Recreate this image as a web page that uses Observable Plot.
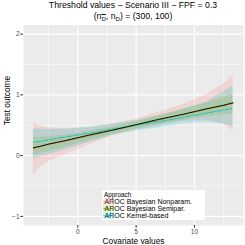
<!DOCTYPE html>
<html><head><meta charset="utf-8">
<script src="https://cdn.jsdelivr.net/npm/d3@7"></script>
<script src="https://cdn.jsdelivr.net/npm/@observablehq/plot@0.6"></script>
<style>
body{margin:0;background:#fff;font-family:"Liberation Sans",Arial,sans-serif;}
#wrap{position:relative;width:245px;height:245px;overflow:hidden;}
#wrap svg{position:absolute;left:0;top:0;}
.t{position:absolute;white-space:nowrap;color:#000;}
sub{font-size:70%;vertical-align:-0.35em;line-height:0;}
.ov{text-decoration:overline;}
#legend{position:absolute;left:102px;top:190px;width:103px;height:30px;background:#fff;}
.lt{position:absolute;font-size:6.4px;color:#000;left:2px;top:1px;line-height:7px;}
.li{position:absolute;left:1px;height:7px;display:flex;align-items:center;}
.li span{font-size:7px;margin-left:1.5px;line-height:7px;}
</style></head>
<body><div id="wrap"></div>
<script>
// data
const covariate = [-3.8, -3.3, -2.5, -1, 1, 3, 5, 7, 9, 11, 12.5, 13.3];
const trueValues = [0.13, 0.15, 0.19, 0.25, 0.34, 0.42, 0.51, 0.60, 0.68, 0.77, 0.83, 0.87];
const nonparMean = [0.12, 0.14, 0.18, 0.24, 0.33, 0.42, 0.51, 0.59, 0.68, 0.76, 0.83, 0.86];
const nonparLower = [-0.33, -0.20, -0.10, 0.02, 0.18, 0.33, 0.42, 0.49, 0.56, 0.58, 0.52, 0.41];
const nonparUpper = [0.55, 0.49, 0.46, 0.44, 0.46, 0.52, 0.60, 0.72, 0.84, 1.00, 1.18, 1.32];
const semiparMean = [0.13, 0.15, 0.19, 0.25, 0.33, 0.42, 0.50, 0.59, 0.67, 0.76, 0.82, 0.86];
const semiparLower = [0.00, 0.03, 0.07, 0.14, 0.25, 0.35, 0.44, 0.51, 0.58, 0.64, 0.67, 0.69];
const semiparUpper = [0.30, 0.30, 0.31, 0.34, 0.40, 0.47, 0.56, 0.66, 0.76, 0.87, 0.96, 1.01];
const kernelMean = [0.22, 0.23, 0.26, 0.31, 0.37, 0.44, 0.50, 0.56, 0.63, 0.70, 0.75, 0.78];
const kernelLower = [-0.05, -0.02, 0.02, 0.10, 0.22, 0.33, 0.41, 0.46, 0.52, 0.55, 0.52, 0.48];
const kernelUpper = [0.44, 0.44, 0.43, 0.44, 0.47, 0.52, 0.58, 0.66, 0.76, 0.88, 1.05, 1.15];
const approaches = ["AROC Bayesian Nonparam.", "AROC Bayesian Semipar.", "AROC Kernel-based"];
const colors = ["#F8766D", "#7CAE00", "#00BFC4"];
const dashes = ["3,2", "6,2", "1,1.5,4,1.5"];
const xTicks = [0, 5, 10];
const yTicks = [-1, 0, 1, 2];
const xMinor = [-2.5, 2.5, 7.5, 12.5];
const yMinor = [-0.5, 0.5, 1.5];

const series = [
  {mean: nonparMean, lo: nonparLower, hi: nonparUpper},
  {mean: semiparMean, lo: semiparLower, hi: semiparUpper},
  {mean: kernelMean, lo: kernelLower, hi: kernelUpper}
];
const rows = series.map((s, k) => covariate.map((x, i) => ({x, y: s.mean[i], lo: s.lo[i], hi: s.hi[i], a: approaches[k]})));
const truth = covariate.map((x, i) => ({x, y: trueValues[i]}));
const fmt = d3.format("d");

const marks = [
  Plot.frame({fill: "#EBEBEB", stroke: "none"}),
  Plot.ruleX(xMinor, {stroke: "#fff", strokeWidth: 0.55}),
  Plot.ruleY(yMinor, {stroke: "#fff", strokeWidth: 0.55}),
  Plot.ruleX(xTicks, {stroke: "#fff", strokeWidth: 1.1}),
  Plot.ruleY(yTicks, {stroke: "#fff", strokeWidth: 1.1})
];
rows.forEach((r, k) => marks.push(Plot.areaY(r, {x: "x", y1: "lo", y2: "hi", fill: colors[k], fillOpacity: 0.2})));
rows.forEach((r, k) => marks.push(Plot.lineY(r, {x: "x", y: "y", stroke: colors[k], strokeWidth: 0.9, strokeDasharray: dashes[k]})));
marks.push(Plot.lineY(truth, {x: "x", y: "y", stroke: "#000", strokeWidth: 0.9}));
marks.push(Plot.axisX({ticks: xTicks, tickFormat: fmt, tickSize: 2.7, tickPadding: 1.5, fontSize: 6.6, fill: "#4D4D4D", stroke: "#333", label: null}));
marks.push(Plot.axisY({ticks: yTicks, tickFormat: fmt, tickSize: 2.7, tickPadding: 1.2, fontSize: 6.6, fill: "#4D4D4D", stroke: "#333", label: null}));
marks.push(Plot.text(["Covariate values"], {frameAnchor: "bottom", lineAnchor: "middle", dy: 15.5, fontSize: 8.3, fill: "#000"}));
marks.push(Plot.text(["Test outcome"], {frameAnchor: "left", lineAnchor: "middle", dx: -16, rotate: -90, fontSize: 8.3, fill: "#000"}));

const chart = Plot.plot({
  width: 245, height: 245,
  marginLeft: 23, marginRight: 2, marginTop: 24.5, marginBottom: 20,
  x: {domain: [-4.65, 14.2]},
  y: {domain: [-1.15, 2.15]},
  style: {background: "transparent", fontFamily: "Liberation Sans, Arial, sans-serif", overflow: "visible"},
  marks
});
const wrap = document.getElementById("wrap");
wrap.appendChild(chart);

const t1 = document.createElement("div");
t1.className = "t";
t1.style.cssText = "left:0;width:266px;text-align:center;top:0px;font-size:8.7px;";
t1.textContent = "Threshold values \u2212 Scenario III \u2212 FPF = 0.3";
wrap.appendChild(t1);
const t2 = document.createElement("div");
t2.className = "t";
t2.style.cssText = "left:0;width:266px;text-align:center;top:10.5px;font-size:8.7px;";
t2.innerHTML = "(n<sub><span class='ov'>D</span></sub>, n<sub>D</sub>) = (300, 100)";
wrap.appendChild(t2);

// legend
const lg = document.createElement("div");
lg.id = "legend";
let html = "<div class='lt'>Approach</div>";
approaches.forEach((a, k) => {
  html += `<div class='li' style='top:${7.5 + k * 7}px'><svg width='11' height='7'><rect x='0' y='0' width='11' height='7' fill='${colors[k]}' fill-opacity='0.2'/><line x1='0.5' x2='10.5' y1='3.5' y2='3.5' stroke='${colors[k]}' stroke-width='1.2' stroke-dasharray='${dashes[k]}'/></svg><span>${a}</span></div>`;
});
lg.innerHTML = html;
wrap.appendChild(lg);
</script></body></html>
